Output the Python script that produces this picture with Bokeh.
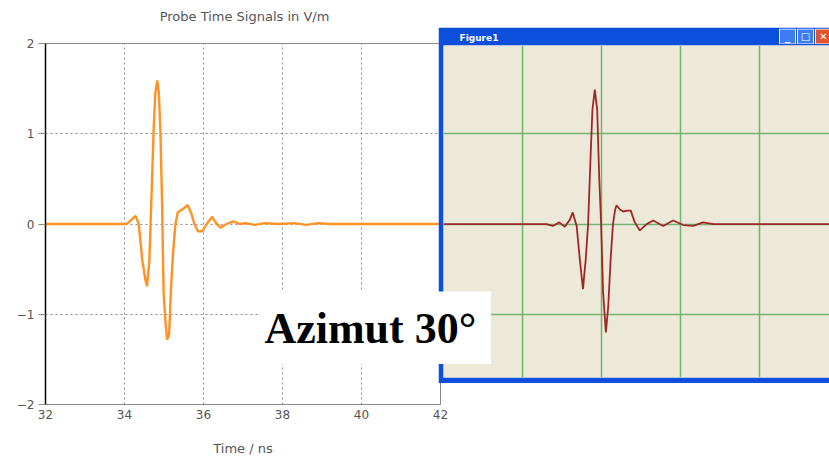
from bokeh.plotting import figure
from bokeh.layouts import row
from bokeh.models import Label, FixedTicker, Range1d
from bokeh.core.properties import value
from bokeh.embed import file_html
from bokeh.resources import INLINE

# ---- left chart: probe time signal (orange) ----
chart_title = "Probe Time Signals in V/m"
t_left = [32.0, 34.05, 34.11, 34.28, 34.36, 34.45, 34.53, 34.57, 34.63, 34.66, 34.70, 34.74,
          34.78, 34.83, 34.87, 34.91, 34.95, 34.99, 35.04, 35.08, 35.13, 35.18, 35.23, 35.29,
          35.35, 35.46, 35.60, 35.69, 35.77, 35.86, 35.97, 36.08, 36.22, 36.32, 36.43, 36.58,
          36.75, 36.92, 37.06, 37.3, 37.55, 37.9, 38.3, 38.6, 38.9, 39.2, 42.0]
v_left = [0.0, 0.0, 0.02, 0.09, 0.0, -0.40, -0.62, -0.69, -0.40, 0.0, 0.53, 1.08,
          1.45, 1.59, 1.45, 1.01, 0.25, -0.76, -1.10, -1.28, -1.22, -0.69, -0.32, 0.0,
          0.13, 0.16, 0.21, 0.12, 0.0, -0.08, -0.08, 0.0, 0.08, 0.01, -0.04, 0.0,
          0.03, 0.0, 0.01, -0.01, 0.01, 0.0, 0.01, -0.01, 0.01, 0.0, 0.0]
x_ticks_left = [32, 34, 36, 38, 40, 42]
y_ticks_left = [-2, -1, 0, 1, 2]

# ---- right window: measured signal (dark red) ----
t_right = [31.0, 33.6, 33.77, 33.93, 34.07, 34.2, 34.27, 34.37, 34.45, 34.53, 34.60, 34.66,
           34.72, 34.77, 34.83, 34.89, 34.94, 34.99, 35.04, 35.11, 35.17, 35.23, 35.29, 35.34,
           35.38, 35.47, 35.55, 35.65, 35.74, 35.84, 35.97, 36.14, 36.31, 36.56, 36.81, 37.07,
           37.32, 37.57, 37.83, 41.0]
v_right = [0.0, 0.0, -0.02, 0.02, -0.03, 0.05, 0.13, -0.02, -0.39, -0.72, -0.39, 0.0,
           0.72, 1.27, 1.49, 1.27, 0.53, 0.0, -0.76, -1.20, -0.91, -0.39, 0.0, 0.15,
           0.21, 0.16, 0.14, 0.15, 0.15, 0.02, -0.07, 0.0, 0.04, -0.02, 0.04, -0.01,
           -0.02, 0.02, 0.0, 0.0]
x_grid_right = [31, 33, 35, 37, 39]
y_grid_right = [-1, 0, 1]

# ---- window title-bar buttons ----
btn_symbols = ["_", "□", "✕"]
btn_colors = ["#3D7CF2", "#3D7CF2", "#E0542C"]

FONT = "DejaVu Sans"

# ---------------- left figure ----------------
left = figure(width=450, height=459, x_range=Range1d(32, 42), y_range=Range1d(-2, 2),
              output_backend="svg", toolbar_location=None, frame_align=False,
              min_border_left=45, min_border_right=10, min_border_top=43, min_border_bottom=55,
              background_fill_color="white", border_fill_color="white",
              outline_line_color="#8a8a8a")

left.xaxis.ticker = FixedTicker(ticks=x_ticks_left)
left.yaxis.ticker = FixedTicker(ticks=y_ticks_left)
left.xaxis.axis_label = "Time / ns"
left.xaxis.axis_label_text_font = FONT
left.xaxis.axis_label_text_font_style = "normal"
left.xaxis.axis_label_text_font_size = "13px"
left.xaxis.axis_label_text_color = "#555555"
left.xaxis.axis_label_standoff = 19
for ax in (left.xaxis, left.yaxis):
    ax.major_label_text_font = FONT
    ax.major_label_text_font_size = "12px"
    ax.major_label_text_color = "#555555"
    ax.minor_tick_line_color = None
    ax.major_tick_in = 0
left.xaxis.axis_line_color = "#8a8a8a"
left.xaxis.major_tick_out = 0
left.xaxis.major_label_standoff = 5
left.yaxis.axis_line_color = "#000000"
left.yaxis.axis_line_width = 1.5
left.yaxis.major_tick_out = 7
left.yaxis.major_tick_line_color = "#8a8a8a"
left.yaxis.major_label_standoff = 4
left.grid.grid_line_color = "#8c8c8c"
left.grid.grid_line_dash = "2 3"
left.grid.grid_line_width = 1

left.line(t_left, v_left, line_color="#FF9224", line_width=2.4)

# ---------------- right "Figure1" window ----------------
right = figure(width=391, height=356, x_range=Range1d(31, 40.77), y_range=Range1d(-1.70, 1.98),
               output_backend="svg", toolbar_location=None, frame_align=False,
               x_axis_location=None, y_axis_location=None,
               min_border_left=5, min_border_right=0, min_border_top=18, min_border_bottom=6,
               background_fill_color="#ECE9D8", border_fill_color="#0B4FDC",
               outline_line_color=None)
right.margin = (27, 0, 76, -12)
right.title.text = "Figure1"
right.title.align = "left"
right.title.offset = 16
right.title.standoff = 5
right.title.text_font = FONT
right.title.text_font_style = "bold"
right.title.text_font_size = "9px"
right.title.text_color = "white"
right.xgrid.ticker = FixedTicker(ticks=x_grid_right)
right.ygrid.ticker = FixedTicker(ticks=y_grid_right)
right.grid.grid_line_color = "#72B272"
right.grid.grid_line_width = 1.5

right.line(t_right, v_right, line_color="#A0262A", line_width=1.8)

# ---------------- "Azimut 30°" box ----------------
az = figure(width=233, height=73, x_range=Range1d(0, 1), y_range=Range1d(0, 1),
            output_backend="svg", toolbar_location=None, frame_align=False,
            x_axis_location=None, y_axis_location=None, min_border=0,
            background_fill_color="white", border_fill_color="white",
            outline_line_color=None)
az.grid.visible = False
az.margin = (291, 0, 95, -571)
az.add_layout(Label(x=0.48, y=0.5, text="Azimut 30°", text_align="center",
                    text_baseline="middle", text_font="Liberation Serif",
                    text_font_style="bold", text_font_size="44px", text_color="black"))

# ---------------- title-bar buttons ----------------
btn = figure(width=51, height=16, x_range=Range1d(0, 51), y_range=Range1d(0, 16),
             output_backend="svg", toolbar_location=None, frame_align=False,
             x_axis_location=None, y_axis_location=None, min_border=0,
             background_fill_color="#0B4FDC", border_fill_color="#0B4FDC",
             outline_line_color=None)
btn.grid.visible = False
btn.margin = (28, 0, 415, 287)
btn_left = [1, 19, 37]
btn.quad(left=btn_left, right=[b + 16 for b in btn_left], bottom=0.5, top=15.5,
         fill_color=btn_colors, line_color="white", line_width=1)
btn.text(x=[b + 8 for b in btn_left], y=8, text=btn_symbols, text_color="white",
         text_align="center", text_baseline="middle", text_font=value(FONT),
         text_font_style="bold", text_font_size="10px")

# ---------------- left chart title ----------------
ttl = figure(width=190, height=18, x_range=Range1d(0, 1), y_range=Range1d(0, 1),
             output_backend="svg", toolbar_location=None, frame_align=False,
             x_axis_location=None, y_axis_location=None, min_border=0,
             background_fill_color="white", border_fill_color="white",
             outline_line_color=None)
ttl.grid.visible = False
ttl.margin = (7, 490, 434, -680)
ttl.add_layout(Label(x=0.5, y=0.5, text=chart_title, text_align="center",
                     text_baseline="middle", text_font=FONT, text_font_style="normal",
                     text_font_size="13px", text_color="#555555"))

layout = row(left, right, az, btn, ttl)
open("out.html", "w").write(file_html(layout, INLINE))
